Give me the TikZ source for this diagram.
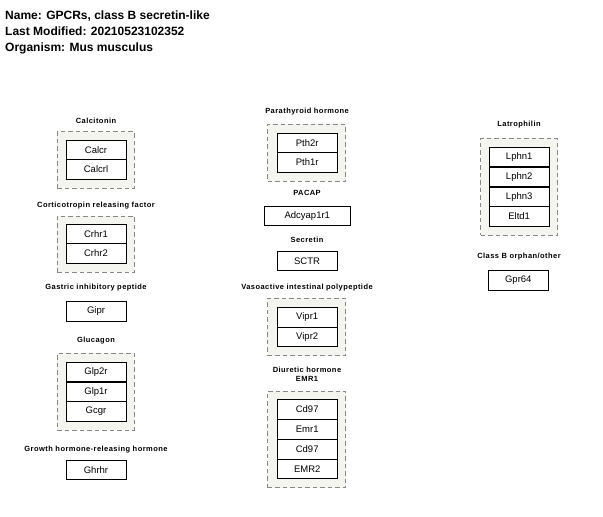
\documentclass[tikz,border=0pt]{standalone}
\usepackage{fontspec}
\setmainfont{Liberation Sans}
\newfontfamily\grplabelfont[LetterSpace=6]{Liberation Sans}
\usepackage{tikz}
\usetikzlibrary{positioning}

\definecolor{grpfill}{RGB}{245,245,239}
\definecolor{grpline}{RGB}{136,136,136}

\begin{document}
\begin{tikzpicture}[x=1pt, y=-1pt]
    \tikzstyle{title_style} = [anchor=base west, inner sep=0, font=\fontsize{12}{13}\selectfont\bfseries]
    \tikzstyle{group_style} = [draw=grpline, fill=grpfill, dash pattern=on 4.5pt off 3pt, line width=0.8pt, inner sep=0]
    \tikzstyle{label_style} = [inner sep=0, font=\grplabelfont\fontsize{7.5}{8.5}\selectfont\bfseries, align=center]
    \tikzstyle{gene_style} = [draw=black, fill=white, line width=0.9pt, minimum width=60pt, minimum height=19.5pt, inner sep=0, font=\fontsize{9.5}{11}\selectfont]
    \useasboundingbox (0,0) rectangle (603,517);

    % header
    \node[title_style] (t1) at (5,19) {Name: GPCRs, class B secretin-like};
    \node[title_style] (t2) at (5,35.3) {Last Modified: 20210523102352};
    \node[title_style] (t3) at (5,51.3) {Organism: Mus musculus};

    % left column
    \node[label_style] (l_calc) at (96,121) {Calcitonin};
    \node[group_style, minimum width=77pt, minimum height=56.6pt] (g_calc) at (95.8,160) {};
    \node[gene_style] (calcr) at (96,149.7) {Calcr};
    \node[gene_style] (calcrl) at (96,169.5) {Calcrl};

    \node[label_style] (l_crf) at (96,206) {Corticotropin releasing factor};
    \node[group_style, minimum width=77pt, minimum height=56.3pt] (g_crf) at (95.8,244.1) {};
    \node[gene_style] (crhr1) at (96,234) {Crhr1};
    \node[gene_style] (crhr2) at (96,253.5) {Crhr2};

    \node[label_style] (l_gip) at (96,287.7) {Gastric inhibitory peptide};
    \node[gene_style] (gipr) at (96,311.4) {Gipr};

    \node[label_style] (l_glu) at (96,340.7) {Glucagon};
    \node[group_style, minimum width=77pt, minimum height=76.7pt] (g_glu) at (95.8,391.6) {};
    \node[gene_style] (glp2r) at (96,372) {Glp2r};
    \node[gene_style] (glp1r) at (96,391.7) {Glp1r};
    \node[gene_style] (gcgr) at (96,411.4) {Gcgr};

    \node[label_style] (l_ghrh) at (96,449.3) {Growth hormone-releasing hormone};
    \node[gene_style] (ghrhr) at (96,469.7) {Ghrhr};

    % middle column
    \node[label_style] (l_pth) at (307,111.7) {Parathyroid hormone};
    \node[group_style, minimum width=78pt, minimum height=56.7pt] (g_pth) at (306.7,152.7) {};
    \node[gene_style] (pth2r) at (307.2,143) {Pth2r};
    \node[gene_style] (pth1r) at (307.2,162.5) {Pth1r};

    \node[label_style] (l_pacap) at (307,193) {PACAP};
    \node[gene_style, minimum width=86.7pt] (adcyap1r1) at (307.3,216) {Adcyap1r1};

    \node[label_style] (l_sct) at (307,240) {Secretin};
    \node[gene_style] (sctr) at (307,260.8) {SCTR};

    \node[label_style] (l_vip) at (307,287.7) {Vasoactive intestinal polypeptide};
    \node[group_style, minimum width=78pt, minimum height=57.4pt] (g_vip) at (306.7,327) {};
    \node[gene_style] (vipr1) at (307.2,317.3) {Vipr1};
    \node[gene_style] (vipr2) at (307.2,337) {Vipr2};

    \node[label_style] (l_dh) at (307,374.5) {Diuretic hormone\\EMR1};
    \node[group_style, minimum width=78pt, minimum height=96.5pt] (g_dh) at (306.7,439.3) {};
    \node[gene_style] (cd97a) at (307.2,409.3) {Cd97};
    \node[gene_style] (emr1) at (307.2,429.3) {Emr1};
    \node[gene_style] (cd97b) at (307.2,449.3) {Cd97};
    \node[gene_style] (emr2) at (307.2,468.8) {EMR2};

    % right column
    \node[label_style] (l_lat) at (519,125) {Latrophilin};
    \node[group_style, minimum width=77pt, minimum height=96.7pt] (g_lat) at (519.2,186.7) {};
    \node[gene_style] (lphn1) at (519.2,157) {Lphn1};
    \node[gene_style] (lphn2) at (519.2,176.7) {Lphn2};
    \node[gene_style] (lphn3) at (519.2,196.7) {Lphn3};
    \node[gene_style] (eltd1) at (519.2,216.4) {Eltd1};

    \node[label_style] (l_orph) at (519,256.7) {Class B orphan/other};
    \node[gene_style] (gpr64) at (518.3,280.5) {Gpr64};
\end{tikzpicture}
\end{document}
